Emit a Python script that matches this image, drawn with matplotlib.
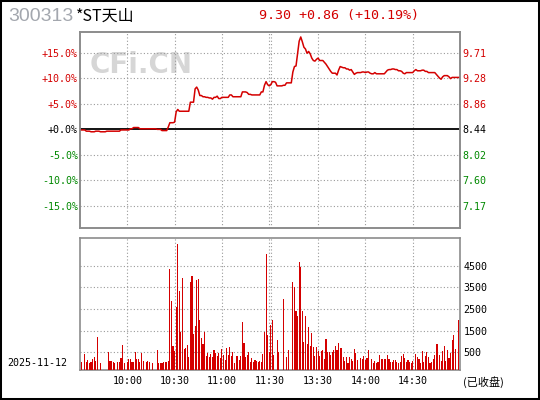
import matplotlib
matplotlib.use('Agg')
import matplotlib.pyplot as plt
from matplotlib.patches import Rectangle
import numpy as np

# ---------------- data ----------------
stock_code = "300313"
stock_name = "*ST天山"
trade_date = "2025-11-12"
prev_close = 8.44
last_price = 9.30
change = 0.86
change_pct = 10.19

# minute prices, 242 points (09:30-11:30, 13:00-15:00)
price = [
    8.43, 8.43, 8.43, 8.43, 8.41, 8.41, 8.41, 8.40, 8.40, 8.40, 8.41, 8.41,
    8.41, 8.40, 8.40, 8.40, 8.40, 8.41, 8.41, 8.41, 8.41, 8.41, 8.41, 8.41,
    8.41, 8.41, 8.43, 8.43, 8.43, 8.43, 8.43, 8.43, 8.45, 8.45, 8.47, 8.47,
    8.47, 8.47, 8.45, 8.45, 8.45, 8.45, 8.45, 8.45, 8.45, 8.45, 8.45, 8.45,
    8.45, 8.44, 8.44, 8.44, 8.42, 8.42, 8.42, 8.42, 8.48, 8.55, 8.55, 8.55,
    8.56, 8.73, 8.77, 8.74, 8.74, 8.74, 8.74, 8.74, 8.74, 8.74, 8.89, 8.89,
    8.89, 9.11, 9.14, 9.09, 9.00, 9.00, 8.98, 8.98, 8.97, 8.97, 8.96, 8.96,
    8.94, 8.97, 8.97, 8.99, 8.95, 8.95, 8.97, 8.97, 8.97, 8.97, 8.97, 9.01,
    9.01, 8.98, 8.98, 8.98, 8.98, 8.98, 8.98, 9.06, 9.06, 9.06, 9.05, 9.02,
    9.02, 9.01, 9.01, 9.01, 9.01, 9.01, 9.01, 9.06, 9.06, 9.17, 9.23, 9.18,
    9.16, 9.18, 9.23, 9.23, 9.22, 9.16, 9.16, 9.16, 9.16, 9.17, 9.17, 9.21,
    9.21, 9.21, 9.21, 9.39, 9.48, 9.49, 9.69, 9.90, 9.97, 9.89, 9.80, 9.77,
    9.70, 9.73, 9.69, 9.62, 9.58, 9.57, 9.60, 9.62, 9.58, 9.58, 9.58, 9.55,
    9.52, 9.48, 9.44, 9.40, 9.37, 9.37, 9.37, 9.34, 9.42, 9.48, 9.47, 9.46,
    9.46, 9.44, 9.44, 9.42, 9.43, 9.39, 9.35, 9.37, 9.38, 9.38, 9.38, 9.39,
    9.39, 9.38, 9.39, 9.39, 9.37, 9.36, 9.36, 9.38, 9.36, 9.36, 9.36, 9.36,
    9.36, 9.36, 9.39, 9.42, 9.43, 9.43, 9.44, 9.44, 9.43, 9.43, 9.41, 9.41,
    9.40, 9.37, 9.36, 9.38, 9.38, 9.38, 9.38, 9.38, 9.41, 9.43, 9.41, 9.41,
    9.41, 9.42, 9.42, 9.40, 9.40, 9.38, 9.38, 9.38, 9.38, 9.38, 9.35, 9.32,
    9.29, 9.27, 9.31, 9.33, 9.33, 9.33, 9.31, 9.28, 9.30, 9.30, 9.30, 9.30,
    9.30, 9.30,
]

# minute volumes, morning (121) and afternoon (121)
vol_am = [
    0, 53, 0, 423, 53, 146, 20, 53, 192, 284,
    100, 1208, 0, 20, 0, 0, 0, 0, 515, 100,
    100, 53, 20, 0, 53, 53, 238, 839, 20, 0,
    53, 192, 192, 53, 53, 515, 192, 192, 53, 469,
    100, 0, 53, 100, 53, 0, 20, 0, 0, 608,
    20, 20, 20, 53, 53, 53, 100, 4350, 2872, 793,
    562, 2594, 5505, 3334, 1439, 3934, 654, 700, 839, 284,
    3749, 4027, 1347, 1717, 3842, 3888, 1994, 1162, 885, 1439,
    331, 469, 284, 423, 284, 608, 469, 331, 469, 238,
    654, 377, 146, 700, 377, 746, 331, 515, 20, 331,
    331, 146, 331, 1901, 931, 284, 377, 515, 53, 238,
    53, 146, 100, 53, 100, 53, 423, 1439, 5043, 1301,
    515,
]
vol_pm = [
    1747, 1994, 377, 0, 1070, 515, 0, 0, 2964, 0,
    284, 608, 0, 0, 3749, 3518, 2410, 2179, 4673, 4442,
    2410, 977, 2179, 885, 1670, 793, 1393, 746, 331, 746,
    562, 331, 562, 608, 192, 1116, 515, 515, 377, 515,
    608, 793, 608, 931, 700, 700, 284, 100, 284, 20,
    284, 192, 100, 654, 469, 146, 0, 238, 192, 331,
    146, 238, 608, 0, 192, 20, 100, 20, 53, 377,
    192, 192, 192, 192, 377, 192, 53, 53, 146, 146,
    53, 20, 53, 331, 423, 238, 53, 146, 53, 20,
    100, 0, 423, 284, 192, 20, 562, 53, 331, 515,
    284, 20, 53, 192, 377, 885, 885, 377, 100, 562,
    793, 100, 608, 238, 469, 1070, 1301, 654, 0, 1994,
    0,
]

pct_ticks = [15, 10, 5, 0, -5, -10, -15]
pct_labels = ['+15.0%', '+10.0%', '+5.0%', '+0.0%', '-5.0%', '-10.0%', '-15.0%']
price_labels = ['9.71', '9.28', '8.86', '8.44', '8.02', '7.60', '7.17']
vol_ticks = [500, 1500, 2500, 3500, 4500]
vol_labels = ['500', '1500', '2500', '3500', '4500']
time_ticks = [30, 60, 90, 120.5, 151, 181, 211]
time_labels = ['10:00', '10:30', '11:00', '11:30', '13:30', '14:00', '14:30']
grid_x = [30, 60, 90, 120, 121, 151, 181, 211]

# ---------------- style ----------------
RED = '#d40000'
GREEN = '#008800'
GRID = '#9a9a9a'
SPINE = '#8c8c8c'
MONO = 'DejaVu Sans Mono'
CJK = ['Noto Sans CJK SC', 'DejaVu Sans']
DOT = (0, (1, 2))

W, H = 540, 400
fig = plt.figure(figsize=(W / 100, H / 100), dpi=100)
fig.patch.set_facecolor('white')


def fx(px):
    return px / W


def fy(py):
    return 1 - py / H


def label_color(v):
    return RED if v > 0 else (GREEN if v < 0 else 'black')


# ---------------- price panel ----------------
x = np.arange(len(price))
pct = (np.array(price) / prev_close - 1) * 100

ax1 = fig.add_axes([fx(80), fy(228), fx(380), 196 / H])
ax1.set_xlim(0, 241)
ax1.set_ylim(-19.35, 19.1)
for gx in grid_x:
    ax1.axvline(gx, color=GRID, lw=0.8, ls=DOT, zorder=1)
for t in pct_ticks:
    if t != 0:
        ax1.axhline(t, color=GRID, lw=0.8, ls=DOT, zorder=1)
ax1.axhline(0, color='black', lw=1.3, zorder=2)
ax1.plot(x, pct, color=RED, lw=1.1, zorder=3)
ax1.set_xticks([])
ax1.set_yticks(pct_ticks)
ax1.set_yticklabels(pct_labels, fontfamily=MONO, fontsize=7.2)
for lab, t in zip(ax1.get_yticklabels(), pct_ticks):
    lab.set_color(label_color(t))
ax1.tick_params(axis='y', length=0, pad=1.5)

ax1r = ax1.twinx()
ax1r.set_ylim(ax1.get_ylim())
ax1r.set_yticks(pct_ticks)
ax1r.set_yticklabels(price_labels, fontfamily=MONO, fontsize=7.2)
for lab, t in zip(ax1r.get_yticklabels(), pct_ticks):
    lab.set_color(label_color(t))
ax1r.tick_params(axis='y', length=0, pad=1.5)

for a in (ax1, ax1r):
    for s in a.spines.values():
        s.set_color(SPINE)
        s.set_linewidth(1.2)

ax1.text(fx(90), fy(65), 'CFi.CN', transform=fig.transFigure, fontsize=20,
         fontweight='bold', color='#d6d6d6', ha='left', va='center',
         family='DejaVu Sans', zorder=0.5)

# ---------------- volume panel ----------------
vol = np.array(vol_am + vol_pm, dtype=float)
xv = np.arange(len(vol))
ylo, yhi = -290, 5777
ax2 = fig.add_axes([fx(80), fy(369.5), fx(380), 131.5 / H])
ax2.set_xlim(0, 241)
ax2.set_ylim(ylo, yhi)
for gx in grid_x:
    ax2.axvline(gx, color=GRID, lw=0.8, ls=DOT, zorder=1)
for t in vol_ticks:
    ax2.axhline(t, color=GRID, lw=0.8, ls=DOT, zorder=1)
m = vol > 0
ax2.bar(xv[m], vol[m] - ylo, bottom=ylo, width=0.7, color=RED,
        linewidth=0, antialiased=False, zorder=3)
ax2.yaxis.tick_right()
ax2.set_yticks(vol_ticks)
ax2.set_yticklabels(vol_labels, fontfamily=MONO, fontsize=7.2)
ax2.set_xticks(time_ticks)
ax2.set_xticklabels(time_labels, fontfamily=MONO, fontsize=7.2)
ax2.tick_params(axis='y', length=0, pad=2.5)
ax2.tick_params(axis='x', length=0, pad=4.5)
for s in ax2.spines.values():
    s.set_color(SPINE)
    s.set_linewidth(1.2)

# ---------------- header / footer texts ----------------
fig.text(fx(8), fy(16.5), stock_code, fontsize=14, color='#a3a7ae',
         family='Liberation Sans', ha='left', va='center')
fig.text(fx(76), fy(16.5), stock_name, fontsize=11.5, color='black',
         family=CJK, ha='left', va='center')
fig.text(fx(259), fy(15.5),
         f"{last_price:.2f} {change:+.2f} ({change_pct:+.2f}%)",
         fontsize=9.6, color=RED, family=MONO, ha='left', va='center')
fig.text(fx(7), fy(362.5), trade_date, fontsize=7.2, color='black',
         family=MONO, ha='left', va='center')
fig.text(fx(463), fy(382), '(已收盘)', fontsize=8, color='black',
         family=CJK, ha='left', va='center')

fig.add_artist(Rectangle((0, 0), 1, 1, transform=fig.transFigure, fill=False,
                         edgecolor='black', linewidth=2.9))

fig.savefig('out.png', dpi=100, facecolor='white')
